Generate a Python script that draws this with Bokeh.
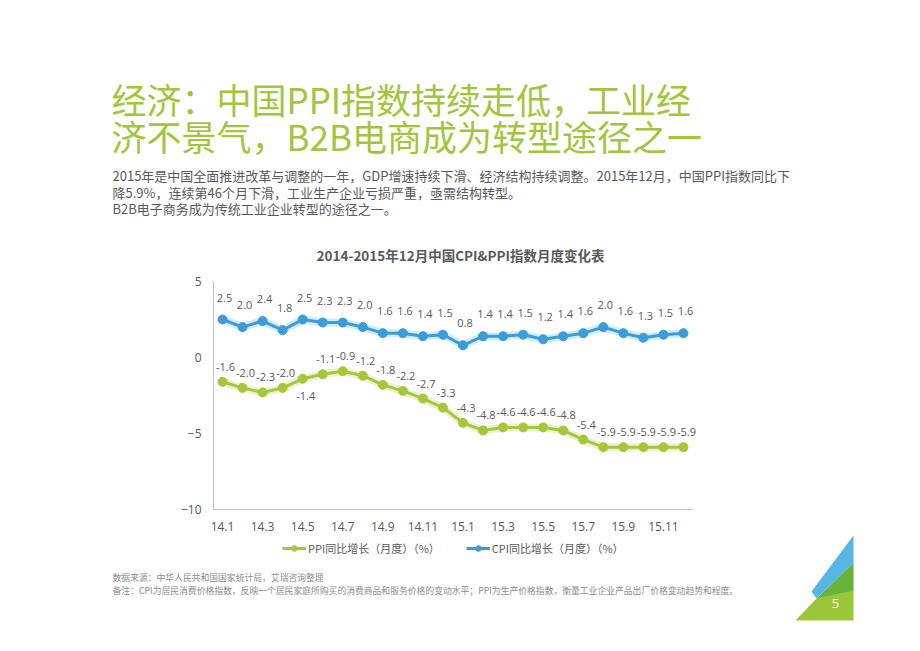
from bokeh.plotting import figure
from bokeh.models import (Range1d, FixedTicker, Label, Legend, LegendItem, LinearAxis,
                          PolyAnnotation, ColumnDataSource, LabelSet)
from bokeh.core.properties import value
from bokeh.embed import file_html
from bokeh.resources import INLINE

# ---------------- data ----------------
months = ["14.1", "14.2", "14.3", "14.4", "14.5", "14.6", "14.7", "14.8", "14.9", "14.10", "14.11", "14.12",
          "15.1", "15.2", "15.3", "15.4", "15.5", "15.6", "15.7", "15.8", "15.9", "15.10", "15.11", "15.12"]
cpi = [2.5, 2.0, 2.4, 1.8, 2.5, 2.3, 2.3, 2.0, 1.6, 1.6, 1.4, 1.5,
       0.8, 1.4, 1.4, 1.5, 1.2, 1.4, 1.6, 2.0, 1.6, 1.3, 1.5, 1.6]
ppi = [-1.6, -2.0, -2.3, -2.0, -1.4, -1.1, -0.9, -1.2, -1.8, -2.2, -2.7, -3.3,
       -4.3, -4.8, -4.6, -4.6, -4.6, -4.8, -5.4, -5.9, -5.9, -5.9, -5.9, -5.9]
x_tick_labels = ["14.1", "14.3", "14.5", "14.7", "14.9", "14.11",
                 "15.1", "15.3", "15.5", "15.7", "15.9", "15.11"]
y_ticks = [-10, -5, 0, 5]
y_min, y_max = -10, 5

title_lines = ["经济：中国PPI指数持续走低，工业经", "济不景气，B2B电商成为转型途径之一"]
intro_lines = ["2015年是中国全面推进改革与调整的一年，GDP增速持续下滑、经济结构持续调整。2015年12月，中国PPI指数同比下",
               "降5.9%，连续第46个月下滑，工业生产企业亏损严重，亟需结构转型。",
               "B2B电子商务成为传统工业企业转型的途径之一。"]
chart_title = "2014-2015年12月中国CPI&PPI指数月度变化表"
ppi_name = "PPI同比增长（月度）（%）"
cpi_name = "CPI同比增长（月度）（%）"
notes = ["数据来源：中华人民共和国国家统计局，艾瑞咨询整理",
         "备注：CPI为居民消费价格指数，反映一个居民家庭所购买的消费商品和服务价格的变动水平；PPI为生产价格指数，衡量工业企业产品出厂价格变动趋势和程度。"]
page_no = "5"

# ---------------- layout (page pixel coordinates) ----------------
W, H = 904, 635
PL, PT, PR, PB = 213, 281, 693, 509      # chart plot-area edges on the page
XL, XR = -0.45, 23.5                       # category extent of the plot area

CJK = "Noto Sans CJK SC"
NUM = "Open Sans"
GREEN = "#a6c63b"
BLUE = "#3d9bd8"
GRAY = "#595959"

# the frame covers the whole page; ranges chosen so the plot area lands at PL..PR / PT..PB
ux = (XR - XL) / (PR - PL)
uy = (y_max - y_min) / (PB - PT)
x_range = Range1d(XL - PL * ux, XR + (W - PR) * ux)
y_range = Range1d(y_min - (H - PB) * uy, y_max + PT * uy)

p = figure(width=W, height=H, output_backend="svg", toolbar_location=None,
           min_border=0, x_axis_type=None, y_axis_type=None,
           x_range=x_range, y_range=y_range)
p.outline_line_color = None
p.background_fill_color = "white"
p.border_fill_color = "white"

xs = list(range(len(months)))

# axes fixed at the plot-area edges
xaxis = LinearAxis(fixed_location=y_min, bounds=(XL, XR),
                   ticker=FixedTicker(ticks=[i for i in xs if i % 2 == 0]),
                   major_label_overrides={i * 2: lab for i, lab in enumerate(x_tick_labels)})
yaxis = LinearAxis(fixed_location=XL, bounds=(y_min, y_max), ticker=FixedTicker(ticks=y_ticks))
for ax in (xaxis, yaxis):
    ax.axis_line_color = "#c0c0c0"
    ax.axis_line_width = 1
    ax.major_tick_line_color = None
    ax.minor_tick_line_color = None
    ax.major_label_text_color = GRAY
    ax.major_label_text_font = NUM
    ax.major_label_text_font_size = "12px"
xaxis.major_label_standoff = 6
yaxis.major_label_standoff = 6
p.add_layout(xaxis, "below")
p.add_layout(yaxis, "left")

# series (with soft glow)
src = ColumnDataSource(dict(x=xs, cpi=cpi, ppi=ppi, month=months,
                            cpi_t=[f"{v:.1f}" for v in cpi],
                            ppi_t=[f"{v:.1f}" for v in ppi],
                            ppi_off=[-17 if i == 4 else 15 for i in xs]))
p.line("x", "ppi", source=src, line_width=8, color="#dbe9a6", alpha=0.55)
p.line("x", "cpi", source=src, line_width=8, color="#a8dcf5", alpha=0.55)
ppi_line = p.line("x", "ppi", source=src, line_width=3, color=GREEN)
ppi_dot = p.scatter("x", "ppi", source=src, size=9, color=GREEN)
cpi_line = p.line("x", "cpi", source=src, line_width=3, color=BLUE)
cpi_dot = p.scatter("x", "cpi", source=src, size=9, color=BLUE)

p.add_layout(LabelSet(x="x", y="cpi", text="cpi_t", source=src, y_offset=22, x_offset=2,
                      text_align="center", text_baseline="middle", text_font=value(NUM),
                      text_font_size=value("11px"), text_color=GRAY))
p.add_layout(LabelSet(x="x", y="ppi", text="ppi_t", source=src, y_offset="ppi_off", x_offset=3,
                      text_align="center", text_baseline="middle", text_font=value(NUM),
                      text_font_size=value("11px"), text_color=GRAY))

# legend below the chart (location = bottom-left corner, from the page's bottom-left)
legend = Legend(items=[LegendItem(label=ppi_name, renderers=[ppi_line, ppi_dot]),
                       LegendItem(label=cpi_name, renderers=[cpi_line, cpi_dot])],
                orientation="horizontal", location=(282, H - 556),
                border_line_color=None, background_fill_alpha=0,
                label_text_font=CJK, label_text_font_size="11px", label_text_color=GRAY,
                glyph_width=24, glyph_height=14, label_standoff=2, spacing=26,
                padding=0, margin=0)
p.add_layout(legend, "center")


def put(text, X, Y, size, color, bold=False, align="left", font=CJK):
    p.add_layout(Label(x=X, y=H - Y, x_units="screen", y_units="screen",
                       text=text, text_font=font, text_font_size=size,
                       text_color=color, text_align=align, text_baseline="middle",
                       text_font_style="bold" if bold else "normal"))


# page title
put(title_lines[0], 111, 98, "35px", "#a3c53c")
put(title_lines[1], 111, 135, "35px", "#a3c53c")
# intro paragraph
for i, line in enumerate(intro_lines):
    put(line, 112, 175 + i * 16.5, "13px", GRAY)
# chart title
put(chart_title, 460, 254, "13.5px", GRAY, bold=True, align="center")
# notes
put(notes[0], 112, 577, "8.8px", "#8c8c8c")
put(notes[1], 112, 590, "8.8px", "#8c8c8c")


# decorative triangle
def poly(pts, color):
    p.add_layout(PolyAnnotation(xs=[X for X, _ in pts], ys=[H - Y for _, Y in pts],
                                xs_units="screen", ys_units="screen",
                                fill_color=color, fill_alpha=1, line_color=None))


poly([(795, 620), (853, 620), (853, 588), (816, 598)], "#9cc63a")
poly([(816, 598), (853, 562), (853, 590)], "#66b43a")
poly([(853, 535), (811, 591), (816, 598), (853, 562)], "#58b6e6")
put(page_no, 835, 603, "13px", "white", align="center", font=NUM)

open("out.html", "w").write(file_html(p, INLINE))
